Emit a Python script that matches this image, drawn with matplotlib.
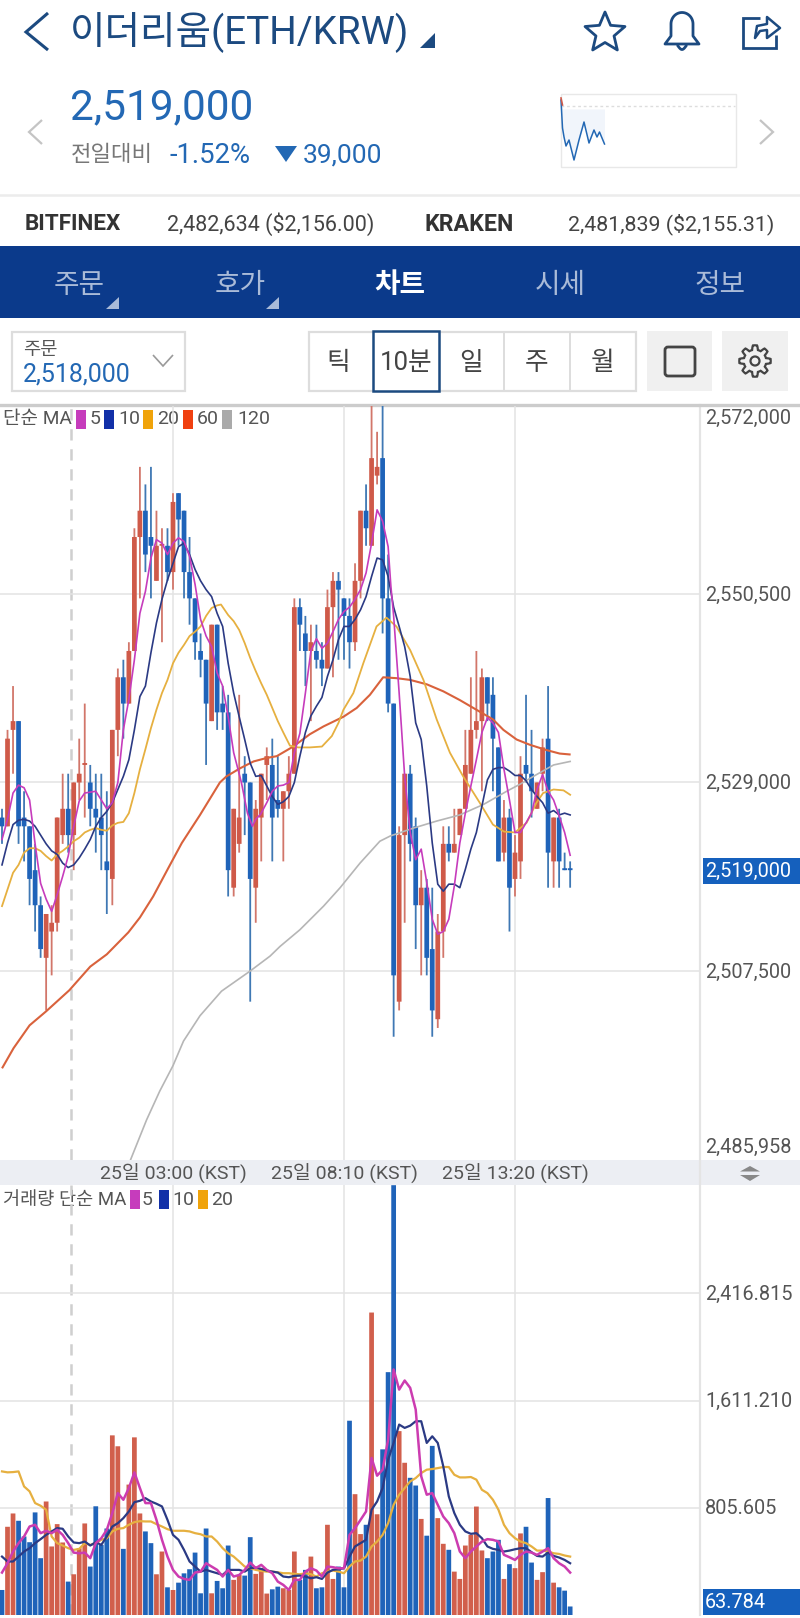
import numpy as np
import matplotlib
matplotlib.use("Agg")
import matplotlib.pyplot as plt
from matplotlib.patches import Rectangle, Polygon, Circle, FancyBboxPatch
from matplotlib.transforms import ScaledTranslation

plt.rcParams['font.family'] = ['Roboto', 'Noto Sans CJK KR', 'DejaVu Sans']

# ---------- data ----------
bars = list(range(-31, 73))
opens = [2525,2524,2535,2536,2525,2524,2519,2515,2509,2512,2513,2523,2526,2523,2529,2531,2529,2526,2525,2520,2518,2535,2541,2538,2544,2557,2560,2557,2552,2556,2556,
         2553,2562,2560,2553,2550,2544,2543,2536,2547,2538,2537,2517,2522,2530,2529,2517,2525,2531,2531,2527,2526,2528,
         2530,2549,2546,2544,2544,2543,2542,2549,2552,2550,2548,2545,2552,2560,2556,2564,2566,2550,2538,2504,2523,2530,2524,2515,2517,2510,2502,2512,2522,2521,2523,2526,2530,2535,2536,2541,2539,2533,2521,2525,2518,2520,2531,2530,2526,2530,2534,2520,2525,2519,2519]
closes = [2524,2534,2536,2524,2524,2518,2515,2510,2514,2513,2525,2526,2523,2529,2530,2531,2526,2525,2523,2519,2535,2541,2538,2544,2557,2560,2555,2556,2556,2556,2553,
          2561,2559,2553,2550,2545,2543,2538,2547,2537,2537,2519,2526,2525,2529,2518,2526,2530,2532,2525,2526,2528,2530,
          2549,2547,2544,2545,2543,2542,2549,2552,2551,2548,2545,2552,2560,2558,2566,2565,2550,2538,2507,2523,2530,2522,2515,2517,2509,2503,2512,2522,2521,2522,2526,2531,2535,2536,2541,2538,2534,2520,2525,2517,2521,2530,2530,2528,2529,2533,2521,2525,2520,2519,2519]
highs = [2526,2535,2540,2536,2528,2524,2522,2516,2514,2515,2525,2530,2530,2529,2534,2538,2531,2530,2530,2528,2535,2542,2543,2545,2558,2565,2563,2565,2560,2558,2558,
         2562,2562,2560,2557,2550,2546,2543,2547,2547,2540,2539,2526,2539,2532,2529,2527,2530,2533,2534,2532,2528,2532,
         2550,2550,2548,2547,2547,2545,2551,2553,2553,2550,2550,2554,2560,2563,2573,2569,2573,2555,2538,2524,2530,2531,2525,2519,2518,2517,2514,2524,2524,2526,2526,2535,2541,2544,2542,2541,2541,2533,2527,2526,2523,2532,2539,2535,2529,2534,2540,2525,2526,2521,2520]
lows = [2522,2524,2530,2522,2520,2515,2512,2509,2503,2507,2512,2522,2521,2519,2527,2525,2524,2521,2519,2514,2515,2532,2534,2538,2544,2550,2553,2550,2552,2545,2552,
        2551,2556,2550,2547,2543,2541,2531,2536,2535,2535,2516,2516,2521,2523,2504,2513,2520,2527,2520,2525,2520,2526,
        2530,2544,2540,2536,2542,2540,2542,2541,2543,2543,2542,2544,2550,2556,2556,2563,2546,2537,2500,2503,2513,2520,2510,2507,2507,2500,2501,2509,2520,2521,2523,2526,2530,2534,2528,2536,2528,2520,2520,2512,2516,2518,2529,2525,2526,2528,2517,2517,2517,2519,2517]
flat_red_bars = [-16, -2]

ma5_x = [-31,-30,-29,-28,-27,-26,-25,-24,-23,-22,-21,-20,-19,-18,-17,-16,-15,-14,-13,-12,-11,-10,-9,-8,-7,-6,-5,-4,-3,-2,-1,0,1,2,3,4,5,6,7,8,9,10,11,12.4,13.5,14.4,15,15.9,17,18,19,20,21,22,23,24,25,26,27,28,29,30,31,32,33,34,35,36,37,38,39,39.5,40,41,42,43,44,45,46,47,48,49,50,51,52,53,54,55,56,57,58,59,60,61,62,63,64,65,66,67,68,69,70,71,72]
ma5_y = [2522.5,2524.8,2527.8,2528.7,2528.4,2527,2522,2517.5,2515.7,2514.3,2516.2,2518.3,2520.6,2524,2526.9,2527.8,2527.9,2528,2527,2526,2526.7,2529,2535,2538.5,2543,2548.3,2550.8,2554.6,2556.7,2556.3,2555,2556.3,2556.9,2556.5,2554.8,2551.6,2547.6,2545.7,2544.5,2541.5,2540,2536.5,2532.4,2529,2525.5,2524,2524.8,2525.4,2526.7,2528,2528.6,2528.7,2529,2532.4,2534.6,2539.2,2544,2545.4,2544.3,2544.9,2546.2,2547.6,2548.5,2549,2549.9,2551,2552.9,2556.3,2560.1,2558.8,2555.9,2551.4,2548,2539.2,2529.7,2523.3,2520.2,2521.4,2517.6,2513.4,2511.7,2512,2513.4,2517.2,2522.1,2525.5,2528.6,2531.6,2534.7,2536.4,2535.8,2534.7,2530.5,2527,2523.3,2523.3,2524.4,2525.5,2528.2,2529.9,2528,2527,2525.2,2523.3,2520.7]
ma10_x = [-31,-30,-29,-28,-27,-26,-25,-24,-23,-22,-21,-20,-19,-18,-17,-16,-15,-14,-13,-12,-11,-10,-9,-8,-7,-6,-5,-4,-3,-2,-1,0,1,2,3,4,5,6,7,8,9,10,11,12,13,14,15,16,17,18,19,20,21,22,23,24,25,26,27,28,29,30,31,32,33,34,35,36,37,38,39,40,41,42,43,44,45,46,47,48,49,50,51,52,53,54,55,56,57,58,59,60,61,62,63,64,65,66,67,68,69,70,71,72]
ma10_y = [2519.6,2522.1,2524.2,2524.7,2524.8,2524.6,2524,2523,2522,2521.2,2520.8,2519.8,2519.3,2519.6,2520.4,2521.4,2522.5,2524,2525,2525.7,2526.7,2528.2,2529.7,2531.6,2535,2538.8,2540,2543.8,2547.2,2549.9,2552.1,2554,2555.9,2556.3,2555,2553.3,2552,2551,2550.2,2548.3,2546.8,2542.6,2539.2,2536.5,2533.9,2531.2,2529.7,2529.8,2528.6,2527.4,2526.5,2526.8,2527.4,2529,2532,2534.7,2536.6,2537.7,2538.7,2541.1,2543,2545.3,2546.8,2546.8,2547.6,2548.7,2550.2,2552.5,2554.6,2554.4,2552.5,2549,2546.8,2544.5,2541.1,2535.8,2533.9,2528.6,2522.1,2517.4,2516.6,2517.4,2517.4,2517,2519.1,2521.4,2523.3,2526.3,2529.3,2530.5,2530.7,2530.7,2530.3,2529.8,2529.8,2529.2,2528.2,2527.4,2526.7,2525.5,2525.8,2525.3,2525.5,2525.3]
ma20_x = [-31,-30,-29,-28,-27,-26,-25,-24,-23,-22,-21,-20,-19,-18,-17,-16,-15,-14,-13,-12,-11,-10,-9,-8,-7,-6,-5,-4,-3,-2,-1,0,1,2,3,4,5,6,7,8,8.7,10,11,12,13,14,15,16,17,18,19,20,21.2,22.7,24.8,27,28.8,30,30.9,32.7,34.5,36.9,38.7,40.5,43,45.4,47.8,50.2,52.6,55.6,58,60,62,64.1,65.9,67.1,69,70.8,72]
ma20_y = [2514.9,2516.8,2518.7,2519.6,2521,2521.5,2521.5,2521.2,2520.6,2520.1,2520.8,2521.2,2521.7,2522.3,2522.7,2523.3,2523.6,2523.8,2523.6,2523.5,2524.1,2524.4,2524.5,2525.5,2527.8,2530.5,2532.8,2535.2,2537.3,2539.2,2540.7,2542.6,2543.8,2544.7,2545.7,2546.2,2546.8,2548,2548.9,2549.2,2549.3,2548.1,2547.4,2546.4,2544.9,2543.2,2541.7,2540.3,2539,2537.5,2536,2534.7,2533.2,2533,2533,2533.1,2534.3,2535.8,2537.3,2539.2,2542.6,2546.8,2547.8,2546.8,2544.1,2540.7,2536.2,2532.4,2529.7,2526.7,2524.2,2523.4,2523.3,2524.4,2526.7,2527.8,2528.2,2528.1,2527.6]
ma60_x = [-30.9,-28.9,-26,-23,-18.8,-15,-12,-8.1,-6,-3.6,-0.8,1.6,4.9,8.5,9.7,12.1,14.6,17,18.8,21.8,24.8,27.3,30.9,33.3,35.7,38.1,40.5,43,46,49,52,55,58,59.9,62.3,64.7,67.7,70.1,71.9]
ma60_y = [2496.5,2498.7,2501.3,2502.9,2505.3,2508,2509.4,2511.9,2513.6,2516,2519.3,2522.1,2525.3,2529,2529.7,2530.6,2531.4,2531.8,2532,2533.1,2534.5,2535.4,2536.5,2537.5,2539,2541,2540.9,2540.7,2540.2,2539.4,2538.4,2537.3,2536.2,2535,2533.9,2533.3,2532.7,2532.3,2532.2]
ma120_x = [-7.8,-4.8,-2.4,0,1.9,4.9,8.8,14,17.6,19.4,23,27.3,30.3,33.9,37.5,39.4,43.6,47.8,52,56.3,60.5,62.9,65.9,69,72]
ma120_y = [2485.8,2490.5,2493.8,2496.7,2499.5,2502.4,2505.2,2507.5,2509.2,2510.3,2512.2,2514.9,2517,2519.8,2522.3,2522.9,2523.8,2524.6,2525.3,2526.5,2528,2528.8,2529.9,2531,2531.4]

volumes = [188,663,763,708,590,547,771,427,853,515,683,545,251,306,502,688,364,817,527,650,1350,1268,497,980,1335,763,628,540,306,477,208,188,243,313,344,469,163,650,163,256,201,522,264,301,296,585,309,352,161,193,213,201,188,477,264,339,439,201,208,678,271,364,208,1460,908,608,678,2273,757,1245,1825,3230,1382,1144,1031,973,722,596,1271,728,535,490,326,271,522,602,815,485,427,477,565,271,382,352,613,663,394,264,322,879,243,208,183,64]
vol_ma5 = [319,389,477,540,590,665,678,615,633,615,640,602,540,469,464,469,427,540,577,640,766,916,866,954,1072,954,841,841,715,565,439,339,289,271,264,319,326,389,364,339,289,339,289,301,339,394,352,377,339,314,251,226,188,264,264,326,351,334,289,364,359,351,351,602,653,715,778,1180,1047,1092,1318,1845,1694,1762,1707,1544,1042,904,916,828,740,690,615,477,427,477,515,552,570,565,552,452,434,414,452,477,469,452,477,502,427,389,364,319]
vol_ma10 = [439,402,402,439,477,502,540,570,602,628,653,648,590,545,540,552,522,547,527,590,665,690,728,778,848,858,878,853,836,816,715,602,565,489,402,364,326,339,326,314,301,339,339,339,326,352,356,346,334,326,319,289,284,294,296,289,276,284,271,319,339,344,351,439,515,540,565,791,853,954,1167,1293,1431,1406,1423,1456,1456,1293,1343,1293,1117,891,766,678,628,610,615,577,515,497,489,477,484,494,502,502,472,444,439,469,444,432,414,389]
vol_ma20 = [1079,1072,1074,1079,966,929,841,821,791,590,540,522,502,489,497,540,527,540,565,577,628,648,653,678,698,705,703,703,683,665,645,633,633,633,628,615,607,590,590,552,502,464,439,402,364,352,339,331,326,326,321,314,314,309,306,314,306,289,314,326,334,326,314,364,402,409,439,515,552,602,690,828,904,954,1004,1029,1067,1092,1097,1104,1112,1112,1054,1034,1034,1037,1017,941,916,866,791,678,615,577,552,540,515,484,484,477,464,459,447,439]

price_ticks = [2550.5, 2529, 2507.5]
price_labels = ['2,550,500', '2,529,000', '2,507,500']
vol_ticks = [805.605, 1611.21, 2416.815]
vol_labels = ['805.605', '1,611.210', '2,416.815']
time_ticks = [0, 31, 62]
time_labels = ['25일 03:00 (KST)', '25일 08:10 (KST)', '25일 13:20 (KST)']
price_ma_legend = ['5', '10', '20', '60', '120']
vol_ma_legend = ['5', '10', '20']

# ---------- palette ----------
BLUE, RED = '#1f63b9', '#cf5a49'
BLUE_W, RED_W = '#3f78b4', '#d2766a'
MAG, NAVY, GOLD, ORG, GREY = '#c63cbc', '#2b3a84', '#e6b040', '#d9623c', '#b6b6b6'
GRID = '#e3e3e3'
NAVYTXT = '#1c4a80'
PRICE = '#2368b4'

W, H = 800, 1618
fig = plt.figure(figsize=(W/100, H/100), dpi=100, facecolor='white')

def rect_px(x0, y0, x1, y1):
    return [x0/W, 1-y1/H, (x1-x0)/W, (y1-y0)/H]

# ---------- UI layer in pixel coordinates ----------
ui = fig.add_axes([0, 0, 1, 1], zorder=0)
ui.set_xlim(0, W); ui.set_ylim(H, 0); ui.axis('off')

def txt(x, y, s, size, color='#444444', ha='left', weight='normal', **kw):
    return ui.text(x, y, s, fontsize=size, color=color, ha=ha, va='center', fontweight=weight, **kw)

def poly(points, fc='none', ec='none', lw=0, closed=True, z=2, **kw):
    ui.add_patch(Polygon(points, closed=closed, fc=fc, ec=ec, lw=lw, zorder=z, **kw))

def box(x0, y0, x1, y1, fc='white', ec='none', lw=0, z=1):
    ui.add_patch(Rectangle((x0, y0), x1-x0, y1-y0, fc=fc, ec=ec, lw=lw, zorder=z))

# header row
poly([(48, 13), (26, 32), (48, 50)], ec=NAVYTXT, lw=2.2, closed=False)
txt(70, 33, '이더리움(ETH/KRW)', 27.8, NAVYTXT)
poly([(420, 48), (435, 48), (435, 33)], fc=NAVYTXT)
ang = np.deg2rad(np.arange(0, 360, 36) - 90)
rad = np.array([21, 9.5] * 5)
poly(np.c_[605 + rad*np.cos(ang), 33 + rad*np.sin(ang)], ec=NAVYTXT, lw=2, joinstyle='round')
# bell
th = np.linspace(np.pi, 2*np.pi, 30)
bell = np.r_[[[665, 44]], [[671, 36]], np.c_[682 + 11*np.cos(th), 24 + 11.5*np.sin(th)], [[693, 36]], [[699, 44]]]
poly(bell, ec=NAVYTXT, lw=2, joinstyle='round')
ui.plot(np.linspace(678, 686, 30), 46 + 3.5*np.sin(np.linspace(0, np.pi, 30)), color=NAVYTXT, lw=2)
# share
poly([(760, 18), (743, 18), (743, 48), (776, 48), (776, 35)], ec=NAVYTXT, lw=2, closed=False)
poly([(755, 38), (757, 26), (767, 24), (767, 17), (780, 28), (767, 38), (767, 30), (760, 31)], ec=NAVYTXT, lw=1.8, fc='white', joinstyle='round', z=3)

# price block
poly([(42, 120), (29, 132), (42, 144)], ec='#c4c4c4', lw=1.6, closed=False)
poly([(760, 120), (773, 132), (760, 144)], ec='#c4c4c4', lw=1.6, closed=False)
txt(70, 108, '2,519,000', 30.5, PRICE)
txt(71, 155, '전일대비', 16, '#777777')
txt(169, 155.5, '-1.52%', 19.8, PRICE)
poly([(275, 146), (297, 146), (286, 162)], fc=PRICE)
txt(303, 155.5, '39,000', 19, PRICE)
box(560.5, 93.5, 735.5, 166.5, fc='white', ec='#e8e8e8', lw=1)
ui.plot([561, 735], [106, 106], color='#dddddd', lw=1, ls=(0, (2, 2)))
mini_x = [561, 562.5, 564, 566, 569, 574, 579, 584, 589, 594, 597, 599.5, 604.5]
mini_y = [100, 128, 137, 146, 140, 160, 140, 122, 143, 130, 137, 132, 144]
ui.fill_between(mini_x, 109, mini_y, color='#f1f5fb', lw=0, zorder=1)
ui.plot(mini_x, mini_y, color=PRICE, lw=1.1, zorder=3)
ui.plot(mini_x[:2], [98, 105], color=RED, lw=1.2, zorder=4)

# exchange row
txt(25, 224, 'BITFINEX', 16.2, '#333333', weight='bold')
txt(167, 224, '2,482,634 ($2,156.00)', 15.5, '#444444')
txt(425, 224, 'KRAKEN', 16.7, '#333333', weight='bold')
txt(568, 224, '2,481,839 ($2,155.31)', 15.4, '#444444')
ui.plot([0, 800], [195, 195], color='#ececec', lw=1.8)

# tab band
box(0, 246, 800, 318, fc='#0b3a8b')
for cx, s in [(79, '주문'), (240, '호가'), (560, '시세'), (720, '정보')]:
    txt(cx, 285, s, 20, '#aabbd8', ha='center')
txt(400, 285, '차트', 20, 'white', ha='center', weight='bold')
poly([(106, 309), (119, 309), (119, 297)], fc='#aabbd8')
poly([(266, 309), (279, 309), (279, 297)], fc='#aabbd8')

# selector row
box(12, 332, 185, 390.5, fc='white', ec='#dddddd', lw=1.6)
txt(23, 350, '주문', 13.5, '#555555')
txt(23, 374, '2,518,000', 18, PRICE)
poly([(153, 355), (163, 366), (173, 355)], ec='#9a9a9a', lw=1.2, closed=False)
box(308.5, 332, 636, 390.5, fc='white', ec='#dddddd', lw=1.6)
for xd in (504, 570):
    ui.plot([xd, xd], [332, 390], color='#dddddd', lw=1.4, zorder=2)
box(373, 331, 439, 391, fc='white', ec='#1c4a80', lw=1.8, z=2)
for cx, s in [(338, '틱'), (406, '10분'), (471, '일'), (537, '주'), (603, '월')]:
    txt(cx, 363, s, 18.5, '#444444', ha='center', zorder=4)
box(647, 331, 712, 391, fc='#f0f0f0')
box(722, 331, 788, 391, fc='#f0f0f0')
ui.add_patch(FancyBboxPatch((665, 347), 30, 29, boxstyle='round,pad=0,rounding_size=3', fc='none', ec='#444444', lw=2, zorder=3))
gt = np.linspace(0, 2*np.pi, 241)
gr = 13.5 + 2.2*np.clip(2.2*np.cos(8*gt), -1, 1)
poly(np.c_[755 + gr*np.cos(gt), 361 + gr*np.sin(gt)], ec='#444444', lw=1.6, z=3)
ui.add_patch(Circle((755, 361), 4.5, fc='none', ec='#444444', lw=1.6, zorder=3))

# chart chrome
ui.plot([0, 800], [405, 405], color='#cccccc', lw=2.4, zorder=5)
box(0, 1160, 800, 1185, fc='#eceef3', z=1)
ui.plot([700, 700], [405, 1615], color='#e4e4e4', lw=1.6, zorder=2)
poly([(750, 1166), (740, 1171.5), (760, 1171.5)], fc='#888888')
poly([(740, 1175), (760, 1175), (750, 1181)], fc='#888888')
txt(705, 418, '2,572,000', 14.3, '#555555')
txt(705, 1147, '2,485,958', 14.3, '#555555')
box(703, 858, 800, 883.5, fc='#1560bd', z=3)
txt(705, 871, '2,519,000', 14.3, 'white', zorder=4)
box(703, 1589, 800, 1614.5, fc='#1560bd', z=3)
txt(705, 1602, '63.784', 14.3, 'white', zorder=4)

# legends
txt(3, 419, '단순 MA', 13.7, '#555555', zorder=6)
for (x0, col), x_t, s in zip([(76, MAG), (104, '#1230a8'), (143, '#f0a30a'), (183, '#f04010'), (222, '#aaaaaa')],
                             [90, 118, 157, 197, 237], price_ma_legend):
    box(x0, 410, x0+9.5, 429, fc=col, z=6)
    txt(x_t, 419, s, 14, '#555555', zorder=6)
txt(3, 1200, '거래량 단순 MA', 13.4, '#555555', zorder=6)
for (x0, col), x_t, s in zip([(130, MAG), (159, '#1230a8'), (198, '#f0a30a')], [142, 172, 211], vol_ma_legend):
    box(x0, 1190, x0+9.5, 1209, fc=col, z=6)
    txt(x_t, 1200, s, 14, '#555555', zorder=6)

# ---------- chart scales ----------
X0, DX = 173.0, 5.516
xlim = ((0 - X0)/DX, (700 - X0)/DX)

ax = fig.add_axes(rect_px(0, 406, 700, 1160), zorder=1)
ax.set_xlim(xlim)
ax.set_ylim(2550.5 - (1160-594)/8.767, 2550.5 + (594-406)/8.767)
av = fig.add_axes(rect_px(0, 1185, 700, 1615), zorder=1)
av.set_xlim(xlim)
av.set_ylim(0, 430/107.2*805.605)

shift = ScaledTranslation(0, 0.8/100, fig.dpi_scale_trans)
for a in (ax, av):
    a.patch.set_alpha(0)
    for s in a.spines.values():
        s.set_visible(False)
    a.set_xticks(time_ticks)
    a.set_xticklabels([])
    a.tick_params(length=0, labelsize=14.3, labelcolor='#555555', pad=3.6)
    a.yaxis.tick_right()
    a.grid(True, color=GRID, lw=1.1, zorder=0)
    a.set_axisbelow(True)
    a.axvline(-18.55, color='#cfcfcf', lw=1.8, ls=(0, (4.5, 3.5)), zorder=0.5)
ax.set_yticks(price_ticks); ax.set_yticklabels(price_labels)
av.set_yticks(vol_ticks); av.set_yticklabels(vol_labels)
for a in (ax, av):
    for lab in a.get_yticklabels():
        lab.set_transform(lab.get_transform() + shift)
for tick, lab in zip(time_ticks, time_labels):
    ax.annotate(lab, xy=(tick, 0), xycoords=('data', 'axes fraction'), xytext=(0, -14), textcoords='offset pixels',
                ha='center', va='center', fontsize=14, color='#555555', annotation_clip=False)

# ---------- candles ----------
b = np.array(bars)
o, c, hi, lo = map(np.array, (opens, closes, highs, lows))
up = (c > o) | np.isin(b, flat_red_bars)
w1 = ax.vlines(b[up], lo[up], hi[up], color=RED_W, lw=1.3, zorder=2)
w2 = ax.vlines(b[~up], lo[~up], hi[~up], color=BLUE_W, lw=1.3, zorder=2)
w1.set_snap(False); w2.set_snap(False)
bottoms = np.minimum(o, c)
heights = np.maximum(np.abs(c - o), 0.22)
for patch in ax.bar(b, heights, bottom=bottoms, width=0.86, color=np.where(up, RED, BLUE), lw=0, zorder=3):
    patch.set_snap(False)

ax.plot(ma120_x, ma120_y, color=GREY, lw=1.2, zorder=4)
ax.plot(ma60_x, ma60_y, color=ORG, lw=1.5, zorder=4)
ax.plot(ma20_x, ma20_y, color=GOLD, lw=1.3, zorder=5)
ax.plot(ma10_x, ma10_y, color=NAVY, lw=1.2, zorder=6)
ax.plot(ma5_x, ma5_y, color=MAG, lw=1.2, zorder=7)

# ---------- volume ----------
for patch in av.bar(b, volumes, width=0.86, color=np.where(up, '#d15f4c', BLUE), lw=0, zorder=3):
    patch.set_snap(False)
av.plot(b, vol_ma20, color=GOLD, lw=1.6, zorder=4)
av.plot(b, vol_ma10, color=NAVY, lw=1.6, zorder=5)
av.plot(b, vol_ma5, color='#cc3cb0', lw=1.8, zorder=6)

fig.savefig('out.png', dpi=100, facecolor='white')
